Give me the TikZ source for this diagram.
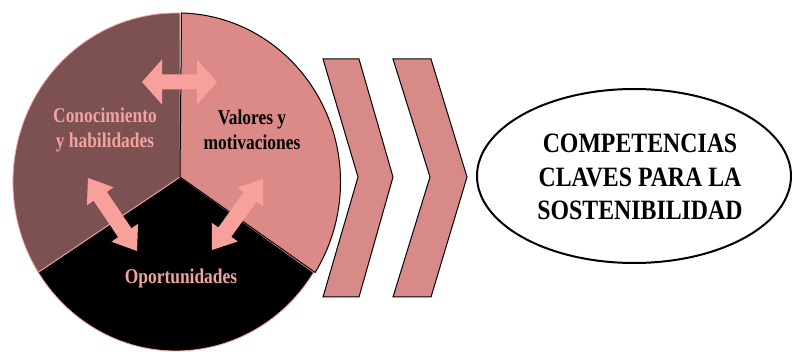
\documentclass[tikz,border=0pt]{standalone}
\usepackage{fontspec}
\newfontfamily\tnrs[FakeStretch=0.83]{Liberation Serif}
\newfontfamily\tnrb[FakeStretch=0.85]{Liberation Serif}
\definecolor{mauve}{HTML}{7D5052}
\definecolor{salmon}{HTML}{DC8A87}
\definecolor{arrowpink}{HTML}{F8A09C}
\definecolor{textpink}{HTML}{F2A3A0}
\definecolor{chevfill}{HTML}{D88A88}
\tikzset{
  slicetext/.style={font=\tnrs\bfseries\fontsize{21}{24.5}\selectfont, align=center, inner sep=0pt},
  bigtext/.style={font=\tnrb\bfseries\fontsize{28}{33.5}\selectfont, align=center, inner sep=0pt},
  chevron/.style={fill=chevfill, draw=black, line width=1pt, line join=miter},
}
\newcommand\dbarrow[6]{%
  \begin{scope}[shift={#1}, rotate=#2]
    \fill[arrowpink] (-#3,0) -- ({-#3+#4},#5) -- ({-#3+#4},#6) -- ({#3-#4},#6) -- ({#3-#4},#5) -- (#3,0)
      -- ({#3-#4},-#5) -- ({#3-#4},-#6) -- ({-#3+#4},-#6) -- ({-#3+#4},-#5) -- cycle;
  \end{scope}}
\begin{document}
\begin{tikzpicture}[x=1pt,y=1pt]
\useasboundingbox (0,0) rectangle (793,351);
% pie slices
\coordinate (v) at (180,174);
\filldraw[fill=black, draw=textpink, line width=0.8pt] (v) -- (313.6,78.5)
  arc[start angle=-32.4, end angle=-147.7, x radius=163, y radius=169] -- cycle;
\filldraw[fill=mauve, draw=textpink, line width=0.8pt] (v) -- (38.2,78.7)
  arc[start angle=212.3, end angle=88.6, x radius=163, y radius=169] -- cycle;
\begin{scope}[xshift=1.5]
\filldraw[fill=salmon, draw=black, line width=1pt] (v) -- (180,338)
  arc[start angle=88.6, end angle=-32.4, x radius=163, y radius=169] -- cycle;
\end{scope}
% arrows
\dbarrow{(179.5,269)}{0}{37.5}{20}{22.5}{7.5}
\dbarrow{(112.5,136.5)}{-56.1}{44}{22}{16}{8}
\dbarrow{(237.5,136.5)}{-125.7}{43.7}{22}{16}{8}
% slice texts
\node[slicetext, text=textpink] (kn) at (105,221) {Conocimiento\\y habilidades};
\node[slicetext, text=black] (va) at (252,221) {Valores y\\motivaciones};
\node[slicetext, text=textpink] (op) at (181,73) {Oportunidades};
% chevrons
\draw[chevron] (323,292) -- (359,292) -- (393,174) -- (359,54) -- (323,54) -- (358,174) -- cycle;
\draw[chevron] (393,292) -- (431,292) -- (467,174) -- (431,54) -- (393,54) -- (430,174) -- cycle;
% ellipse
\draw[line width=2pt] (634,175) ellipse[x radius=157, y radius=87];
\node[bigtext] (comp) at (640,174) {COMPETENCIAS\\CLAVES PARA LA\\SOSTENIBILIDAD};
\end{tikzpicture}
\end{document}
